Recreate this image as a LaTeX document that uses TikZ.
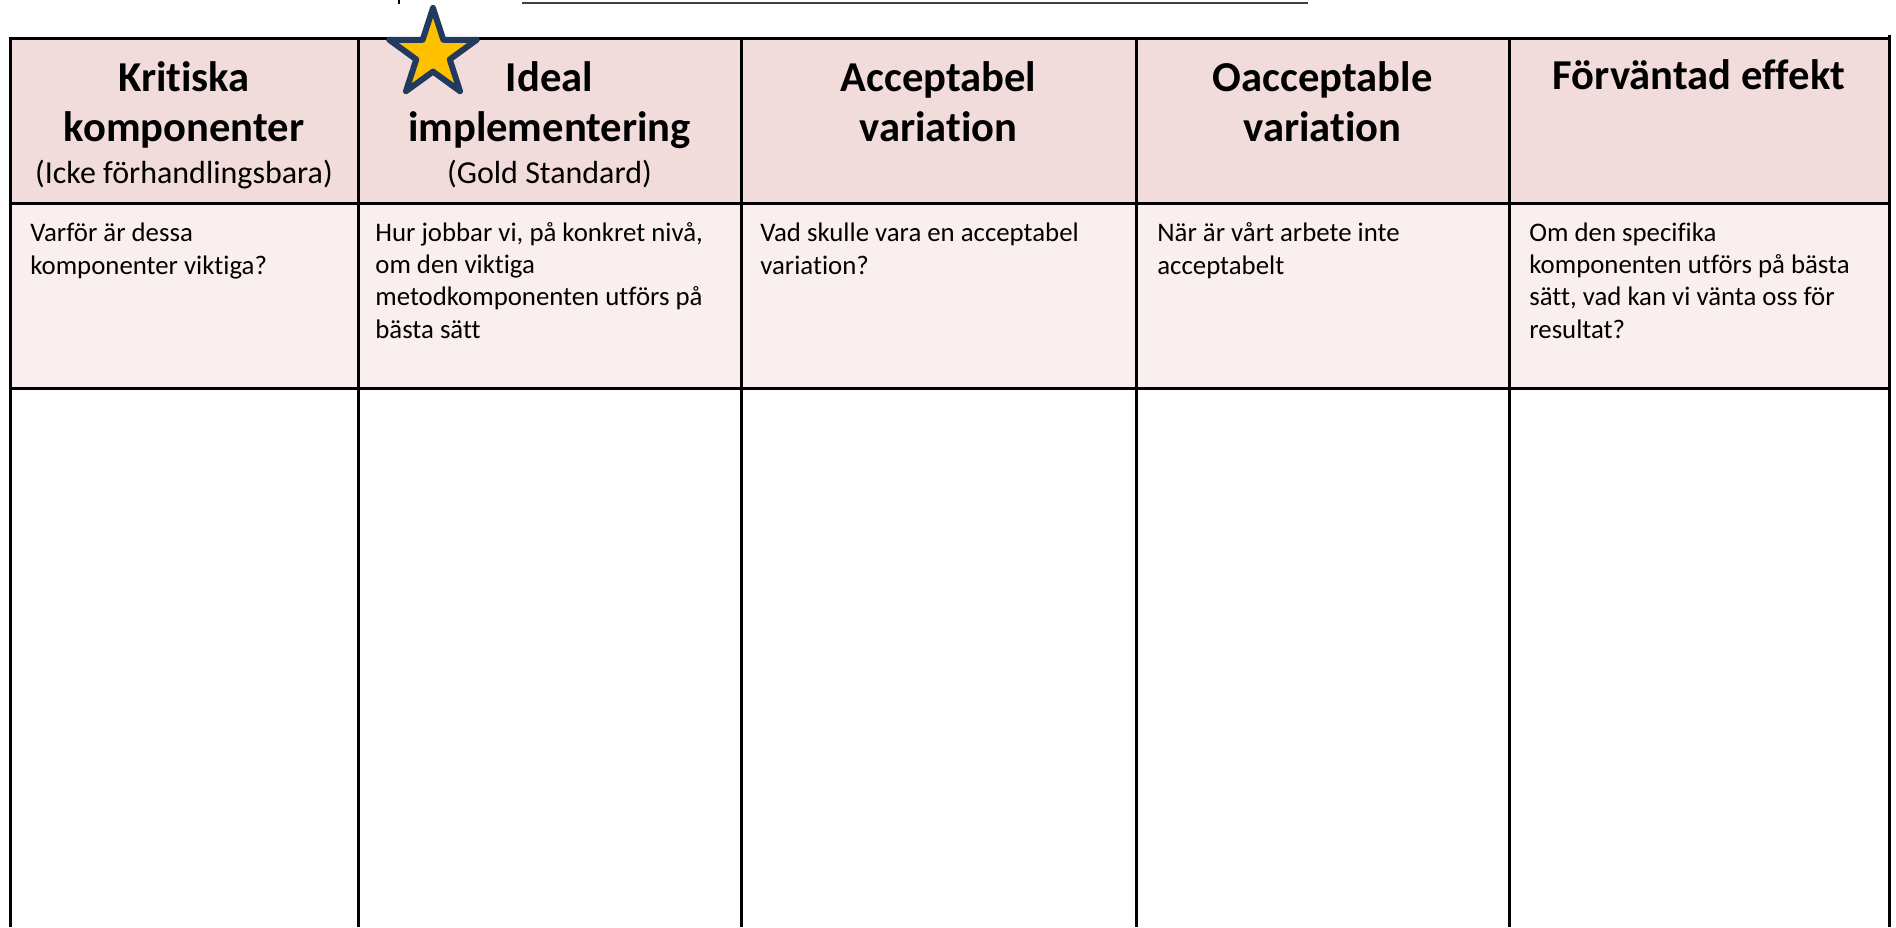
\documentclass[tikz,border=0pt]{standalone}
\usepackage{fontspec}
\setmainfont{Carlito}[Ligatures={NoCommon}]
\usetikzlibrary{calc}
\definecolor{hdpink}{HTML}{F2DCDB}
\definecolor{rowpink}{HTML}{FAEFEF}
\definecolor{starfill}{HTML}{FFC000}
\definecolor{starline}{HTML}{223A5E}
\begin{document}
\begin{tikzpicture}[x=0.5pt,y=-0.5pt,
  grid/.style={line width=1.5pt, black},
  hd/.style={font=\fontsize{21.3}{25}\selectfont\bfseries, align=center, inner sep=0pt, anchor=base},
  sub/.style={font=\fontsize{16}{18}\selectfont, inner sep=0pt, anchor=base},
  body/.style={font=\fontsize{13.4}{16.1}\selectfont, align=left, inner sep=0pt, anchor=base west}]
\useasboundingbox (0,0) rectangle (1896,927);
% fills
\fill[hdpink] (10,38) rectangle (1889,203);
\fill[rowpink] (10,203) rectangle (1889,388);
% grid
\draw[grid] (10,927) -- (10,38) -- (1889,38);
\draw[grid] (1889,35) -- (1889,927);
\draw[grid] (10,203) -- (1889,203);
\draw[grid] (10,388) -- (1889,388);
\foreach \xx in {358,741,1136,1509} \draw[grid] (\xx,38) -- (\xx,927);
% top line fragments
\draw[line width=1.4pt, black!75] (522,3) -- (1308,3);
\draw[line width=1pt] (399,0) -- (399,4);
% headers (anchor base = last line)
\node[hd] (h1) at (184,141) {Kritiska\\komponenter};
\node[sub] (s1) at (184,183) {(Icke förhandlingsbara)};
\node[hd] (h2) at (549.5,141) {Ideal\\implementering};
\node[sub] (s2) at (549.5,183) {(Gold Standard)};
\node[hd] (h3) at (938.5,141) {Acceptabel\\variation};
\node[hd] (h4) at (1322.5,141) {Oacceptable\\variation};
\node[hd] (h5) at (1699,89) {Förväntad effekt};
% body texts (anchor base = last line)
\node[body] (b1) at (30,274) {Varför är dessa\\komponenter viktiga?};
\node[body] (b2) at (375,338) {Hur jobbar vi, på konkret nivå,\\om den viktiga\\metodkomponenten utförs på\\bästa sätt};
\node[body] (b3) at (760,274) {Vad skulle vara en acceptabel\\variation?};
\node[body] (b4) at (1157,274) {När är vårt arbete inte\\acceptabelt};
\node[body] (b5) at (1529,338) {Om den specifika\\komponenten utförs på bästa\\sätt, vad kan vi vänta oss för\\resultat?};
% star
\coordinate (sc) at (433,54);
\draw[starline, fill=starfill, line width=3pt, line join=round]
  ($(sc)+(-90:46)$) -- ($(sc)+(-54:17.6)$) -- ($(sc)+(-18:46)$) -- ($(sc)+(18:17.6)$) --
  ($(sc)+(54:46)$) -- ($(sc)+(90:17.6)$) -- ($(sc)+(126:46)$) -- ($(sc)+(162:17.6)$) --
  ($(sc)+(198:46)$) -- ($(sc)+(234:17.6)$) -- cycle;
\end{tikzpicture}
\end{document}
